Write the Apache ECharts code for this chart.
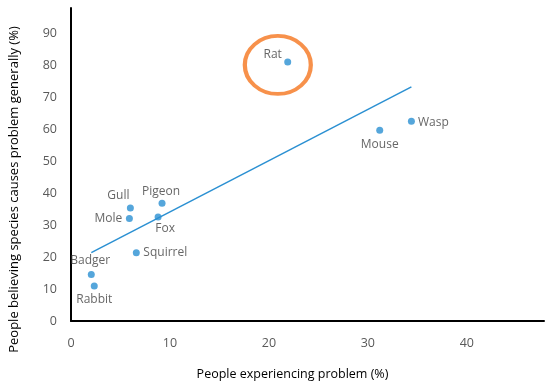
<!DOCTYPE html>
<html>
<head>
<meta charset="utf-8">
<script src="https://cdn.jsdelivr.net/npm/echarts@6/dist/echarts.min.js"></script>
<style>html,body{margin:0;padding:0;background:#fff}#c{width:550px;height:387px}</style>
</head>
<body>
<div id="c"></div>
<script>
// Data
var species = ['Rat', 'Wasp', 'Mouse', 'Gull', 'Pigeon', 'Mole', 'Fox', 'Squirrel', 'Badger', 'Rabbit'];
var experiencing = [21.9, 34.4, 31.2, 6.0, 9.2, 5.9, 8.8, 6.6, 2.05, 2.35];
var believing = [80.9, 62.4, 59.6, 35.3, 36.8, 32.0, 32.5, 21.3, 14.5, 10.9];
var xTicks = [0, 10, 20, 30, 40];
var yTicks = [0, 10, 20, 30, 40, 50, 60, 70, 80, 90];
var highlightCenter = [20.9, 80.0]; // orange ring around Rat

// Label placement (offset of text centre from the point, px)
var labelOffsets = {
  Rat: [-15, -8], Wasp: [22, 1], Mouse: [0, 14], Gull: [-12, -12], Pigeon: [-1, -12],
  Mole: [-21, 0], Fox: [7, 12], Squirrel: [29, 0], Badger: [-1, -14], Rabbit: [0, 13]
};

// Least-squares linear trendline from the data
var n = experiencing.length, sx = 0, sy = 0, sxy = 0, sxx = 0;
for (var i = 0; i < n; i++) { sx += experiencing[i]; sy += believing[i]; sxy += experiencing[i] * believing[i]; sxx += experiencing[i] * experiencing[i]; }
var slope = (n * sxy - sx * sy) / (n * sxx - sx * sx);
var intercept = (sy - slope * sx) / n;
var xmin = Math.min.apply(null, experiencing), xmax = Math.max.apply(null, experiencing);
var trend = [[xmin, intercept + slope * xmin], [xmax, intercept + slope * xmax]];

var font = '"Open Sans", sans-serif';
var pts = species.map(function (s, i) {
  return {
    value: [experiencing[i], believing[i]],
    name: s,
    label: { offset: labelOffsets[s] }
  };
});

var chart = echarts.init(document.getElementById('c'), null, { renderer: 'canvas' });
chart.setOption({
  animation: false,
  backgroundColor: '#ffffff',
  grid: { left: 71, right: 6, top: 8, bottom: 66, containLabel: false },
  xAxis: {
    type: 'value', min: 0, max: 47.8, interval: 10,
    name: 'People experiencing problem (%)', nameLocation: 'middle', nameGap: 47,
    nameTextStyle: { color: '#000', fontSize: 12.5, fontFamily: font, padding: [0, 30, 0, 0] },
    axisLine: { show: true, onZero: false, lineStyle: { color: '#000', width: 2 } },
    axisTick: { show: false },
    splitLine: { show: false },
    axisLabel: { color: '#595959', fontSize: 12.5, fontFamily: font, margin: 16, showMaxLabel: false,
      formatter: function (v) { return xTicks.indexOf(v) >= 0 ? String(v) : ''; } }
  },
  yAxis: {
    type: 'value', min: 0, max: 97.8, interval: 10,
    name: 'People believing species causes problem generally (%)', nameLocation: 'middle', nameGap: 50,
    nameTextStyle: { color: '#000', fontSize: 13, fontFamily: font, padding: [0, 50, 0, 0] },
    axisLine: { show: true, onZero: false, lineStyle: { color: '#000', width: 2 } },
    axisTick: { show: false },
    splitLine: { show: false },
    axisLabel: { color: '#595959', fontSize: 12.5, fontFamily: font, margin: 14, showMaxLabel: false,
      formatter: function (v) { return yTicks.indexOf(v) >= 0 ? String(v) : ''; } }
  },
  series: [
    {
      type: 'line', data: trend, symbol: 'none', silent: true,
      lineStyle: { color: '#2B90D2', width: 1.5 }, z: 2
    },
    {
      type: 'scatter', data: pts, symbol: 'circle', symbolSize: 7,
      itemStyle: { color: '#2B90D2' }, z: 3,
      label: { show: true, position: 'inside', formatter: '{b}', color: '#404040', fontSize: 12, fontFamily: font }
    },
    {
      type: 'scatter', data: [highlightCenter], symbol: 'circle', symbolSize: [66, 58], silent: true,
      itemStyle: { color: 'rgba(0,0,0,0)', borderColor: '#F5761E', borderWidth: 4 }, z: 4
    }
  ]
});
</script>
</body>
</html>
